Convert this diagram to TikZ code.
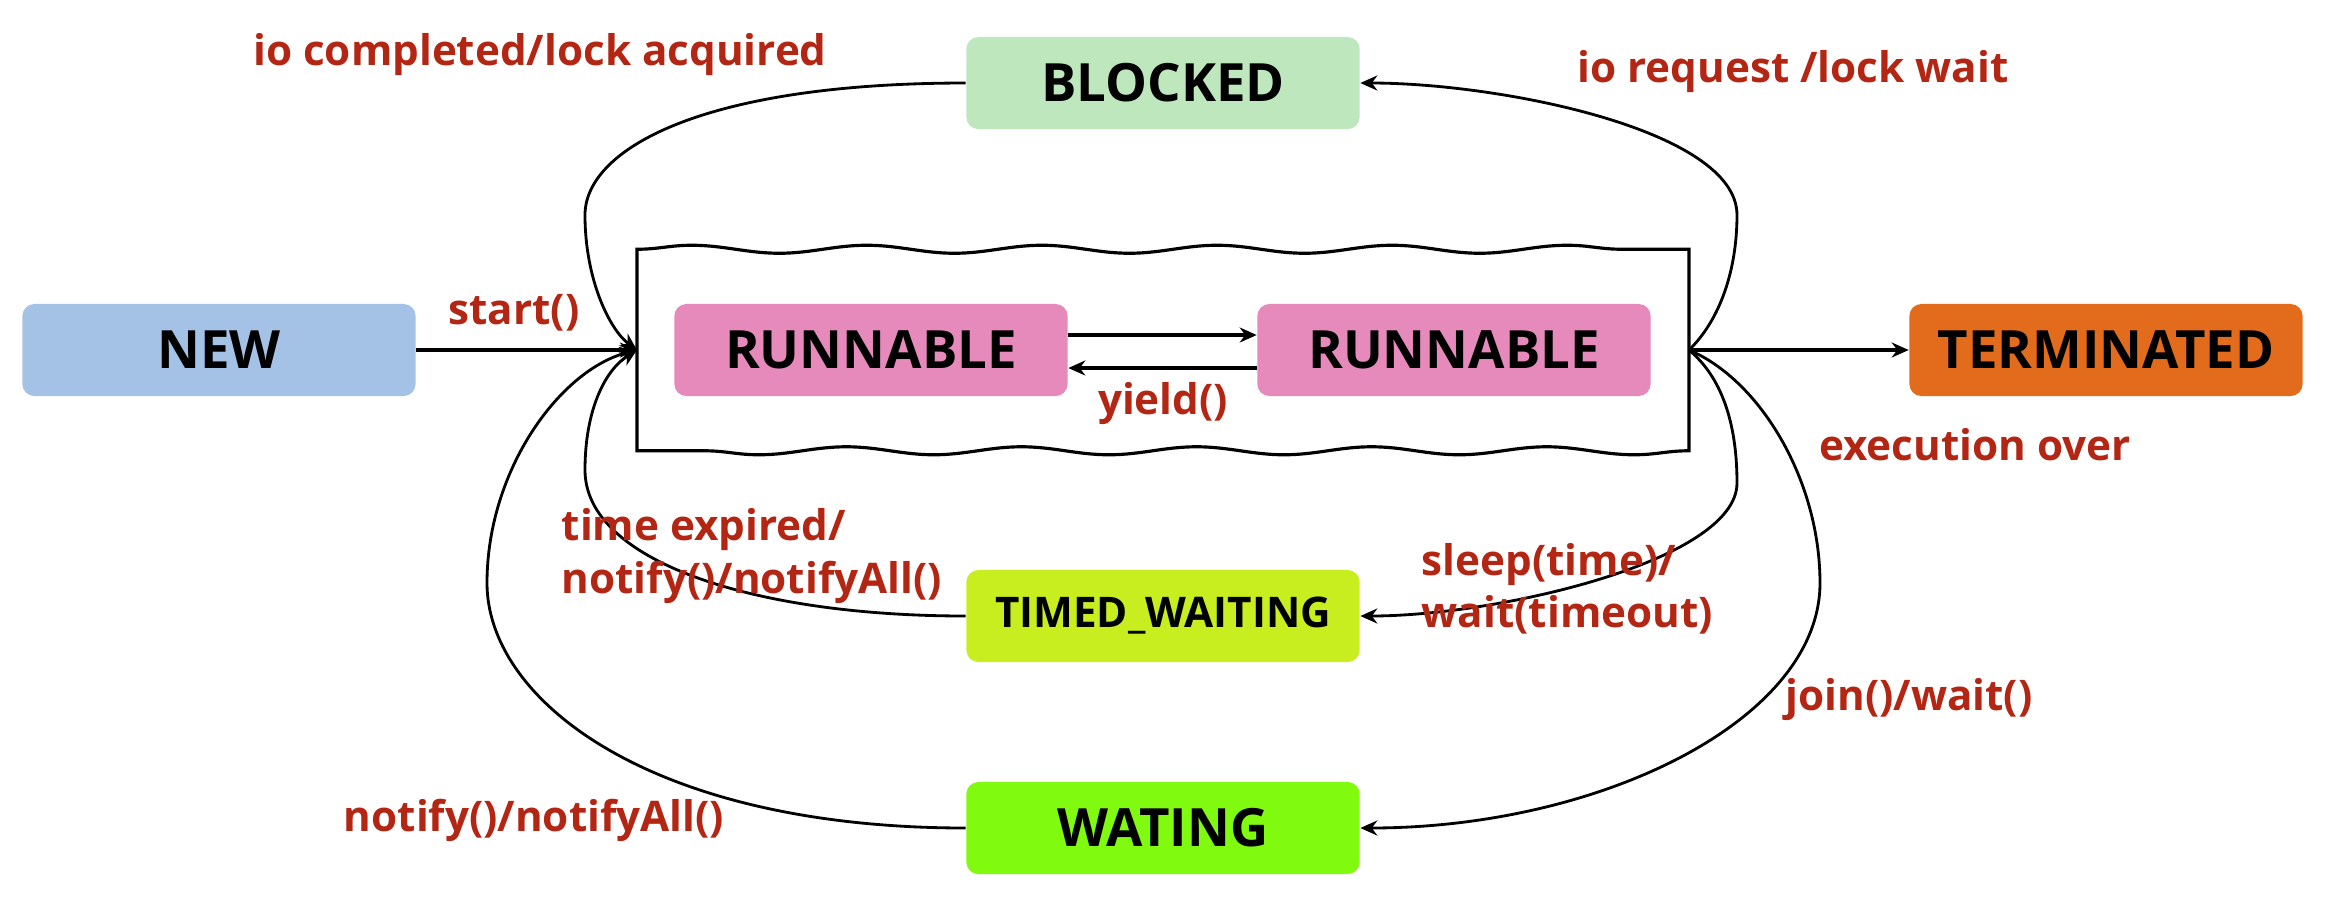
\documentclass[tikz,border=0pt]{standalone}
\usepackage{fontspec}
\setmainfont{Open Sans}
\usetikzlibrary{arrows.meta,decorations.pathmorphing}
\definecolor{newblue}{RGB}{164,194,230}
\definecolor{blockgreen}{RGB}{190,231,190}
\definecolor{runpink}{RGB}{230,138,188}
\definecolor{termorange}{RGB}{227,108,28}
\definecolor{timedlime}{RGB}{200,238,32}
\definecolor{waitgreen}{RGB}{128,251,15}
\definecolor{lblred}{RGB}{180,38,20}
\tikzset{
  state/.style={minimum width=3.93cm, minimum height=0.92cm, inner sep=0pt,
    rounded corners=0.12cm, font=\bfseries\fontsize{15}{18}\selectfont},
  lbl/.style={text=lblred, font=\bfseries\fontsize{12}{14.8}\selectfont, inner sep=0pt},
  conn/.style={line width=0.8pt, -{Stealth[length=0.17cm, width=0.15cm]}},
  wavy/.style={decoration={snake, amplitude=0.04cm, segment length=1.75cm}},
}
\begin{document}
\begin{tikzpicture}[x=0.01cm, y=-0.01cm]
\useasboundingbox[fill=white] (0,0) rectangle (2326,902);
% states
\node[state, fill=newblue] (new) at (219,350) {NEW};
\node[state, fill=blockgreen] (blocked) at (1163,83) {BLOCKED};
\node[state, fill=runpink] (runa) at (871,350) {RUNNABLE};
\node[state, fill=runpink] (runb) at (1454,350) {RUNNABLE};
\node[state, fill=termorange] (term) at (2106,350) {TERMINATED};
\node[state, fill=timedlime, font=\bfseries\fontsize{12}{14}\selectfont] (timed) at (1163,616) {TIMED\_WAITING};
\node[state, fill=waitgreen] (wait) at (1163,828) {WATING};
% box round the runnable states
\node[minimum width=10.5cm, minimum height=2cm] (run) at (1163,350) {};
\draw[line width=0.9pt, wavy] (run.north west) decorate {-- (run.north east)}
  -- (run.south east) decorate {-- (run.south west)} -- cycle;
% straight connectors
\draw[conn, line width=1pt] (new.east) -- (run.west);
\draw[conn, line width=1pt] (run.east) -- (term.west);
\draw[conn, line width=1pt] ([yshift=0.15cm]runa.east) -- ([yshift=0.15cm]runb.west);
\draw[conn, line width=1pt] ([yshift=-0.18cm]runb.west) -- ([yshift=-0.18cm]runa.east);
% curved connectors
\draw[conn] (blocked.west) .. controls (700,83) and (585,150) .. (585,215)
  .. controls (585,280) and (610,330) .. (run.west);
\draw[conn] (run.east) .. controls (1720,320) and (1737,270) .. (1737,215)
  .. controls (1737,130) and (1500,83) .. (blocked.east);
\draw[conn] (run.east) .. controls (1725,380) and (1737,430) .. (1737,483)
  .. controls (1737,560) and (1500,616) .. (timed.east);
\draw[conn] (timed.west) .. controls (750,616) and (585,560) .. (585,470)
  .. controls (585,410) and (605,370) .. (run.west);
\draw[conn] (run.east) .. controls (1760,380) and (1820,480) .. (1820,583)
  .. controls (1820,720) and (1600,828) .. (wait.east);
\draw[conn] (wait.west) .. controls (650,828) and (487,700) .. (487,583)
  .. controls (487,470) and (560,370) .. (run.west);
% labels
\node[lbl] (lioc) at (540,55) {io completed/lock acquired};
\node[lbl] (lior) at (1793,72) {io request /lock wait};
\node[lbl] (lstart) at (514,313) {start()};
\node[lbl] (lyield) at (1163,404) {yield()};
\node[lbl] (lexec) at (1975,445) {execution over};
\node[lbl, align=left, anchor=west] (ltime) at (561,556) {time expired/\\notify()/notifyAll()};
\node[lbl, align=left, anchor=west] (lsleep) at (1421,589) {sleep(time)/\\wait(timeout)};
\node[lbl] (ljoin) at (1909,700) {join()/wait()};
\node[lbl] (lnotify) at (534,820) {notify()/notifyAll()};
\end{tikzpicture}
\end{document}
